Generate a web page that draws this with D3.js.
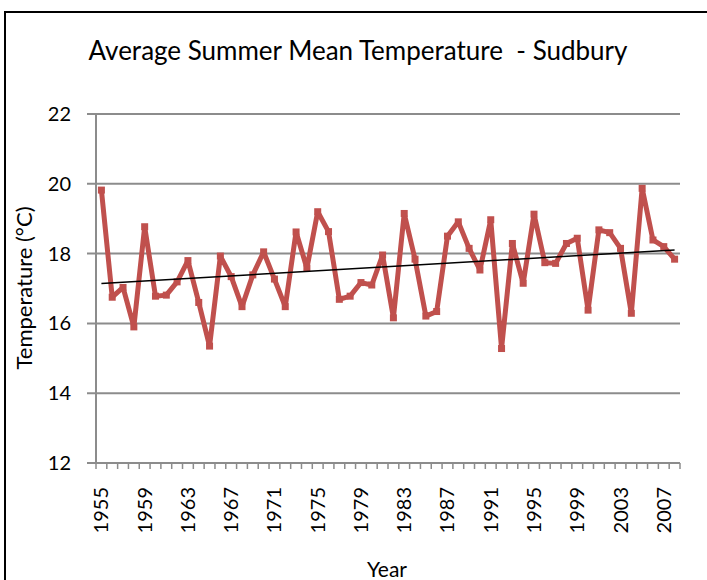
<!DOCTYPE html>
<html>
<head>
<meta charset="utf-8">
<script src="https://cdn.jsdelivr.net/npm/d3@7"></script>
<style>
body{margin:0;background:#fff}
svg{display:block}
</style>
</head>
<body>
<div id="chart"></div>
<script>
const years=d3.range(1955,2009)
const temps=[19.82,16.75,17.03,15.9,18.77,16.78,16.81,17.19,17.8,16.6,
15.35,17.93,17.34,16.48,17.39,18.05,17.27,16.48,18.62,17.58,
19.2,18.63,16.69,16.78,17.17,17.1,17.96,16.16,19.15,17.84,
16.21,16.34,18.5,18.91,18.15,17.53,18.97,15.28,18.29,17.15,
19.13,17.74,17.72,18.29,18.44,16.38,18.68,18.6,18.15,16.29,
19.87,18.39,18.2,17.84]
const yTicks=[12,14,16,18,20,22]
const labelYears=d3.range(1955,2009,4)

const width=707
const height=580
const font="Lato, 'Open Sans', sans-serif"

const svg=d3.select("#chart")
.append("svg")
.attr("width",width)
.attr("height",height)

// outer frame
svg.append("path")
.attr("d","M5,580 V12 H707")
.attr("fill","none")
.attr("stroke","#000")
.attr("stroke-width",2)

const x=d3.scaleBand().domain(years).range([96,680])
const y=d3.scaleLinear().domain([12,22]).range([463,114])

// grid
svg.selectAll(".grid")
.data(yTicks)
.enter()
.append("line")
.attr("x1",87)
.attr("x2",680)
.attr("y1",d=>y(d))
.attr("y2",d=>y(d))
.attr("stroke","#8c8c8c")
.attr("stroke-width",2)

svg.append("line")
.attr("x1",96).attr("x2",96)
.attr("y1",y(22)).attr("y2",y(12))
.attr("stroke","#8c8c8c")
.attr("stroke-width",2)

// y labels
svg.selectAll(".ylab")
.data(yTicks)
.enter()
.append("text")
.attr("x",71)
.attr("y",d=>y(d)+7)
.attr("text-anchor","end")
.attr("font-family",font)
.attr("font-size",20)
.text(d=>d)

// x ticks between categories
svg.selectAll(".xtick")
.data(years.concat([2009]))
.enter()
.append("line")
.attr("x1",d=>d===2009?680:x(d))
.attr("x2",d=>d===2009?680:x(d))
.attr("y1",y(12))
.attr("y2",y(12)+6)
.attr("stroke","#8c8c8c")
.attr("stroke-width",1.5)

// x labels
svg.selectAll(".xlab")
.data(labelYears)
.enter()
.append("text")
.attr("transform",d=>"translate("+(x(d)+x.bandwidth()/2+7)+","+487+") rotate(-90)")
.attr("text-anchor","end")
.attr("font-family",font)
.attr("font-size",20)
.text(d=>d)

// line
const line=d3.line()
.x((d,i)=>x(years[i])+x.bandwidth()/2)
.y(d=>y(d))

svg.append("path")
.datum(temps)
.attr("d",line)
.attr("fill","none")
.attr("stroke","#c0504d")
.attr("stroke-width",5)
.attr("stroke-linejoin","round")

svg.selectAll(".pt")
.data(temps)
.enter()
.append("rect")
.attr("x",(d,i)=>x(years[i])+x.bandwidth()/2-3.5)
.attr("y",d=>y(d)-3.5)
.attr("width",7)
.attr("height",7)
.attr("fill","#c0504d")

// linear trend
const mx=d3.mean(years),my=d3.mean(temps)
const slope=d3.sum(years,(d,i)=>(d-mx)*(temps[i]-my))/d3.sum(years,d=>(d-mx)*(d-mx))
const b=my-slope*mx
svg.append("line")
.attr("x1",x(1955)+x.bandwidth()/2)
.attr("x2",x(2008)+x.bandwidth()/2)
.attr("y1",y(slope*1955+b))
.attr("y2",y(slope*2008+b))
.attr("stroke","#000")
.attr("stroke-width",1.5)

// titles
svg.append("text")
.attr("x",358)
.attr("y",60)
.attr("text-anchor","middle")
.attr("font-family",font)
.attr("font-size",26)
.style("white-space","pre")
.text("Average Summer Mean Temperature  - Sudbury")

svg.append("text")
.attr("transform","translate(32,288) rotate(-90)")
.attr("text-anchor","middle")
.attr("font-family",font)
.attr("font-size",22)
.text("Temperature (°C)")

svg.append("text")
.attr("x",387)
.attr("y",577)
.attr("text-anchor","middle")
.attr("font-family",font)
.attr("font-size",21)
.text("Year")
</script>
</body>
</html>
